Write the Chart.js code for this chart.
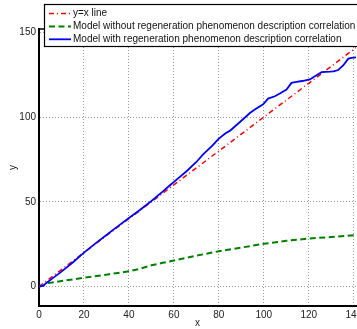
<!DOCTYPE html>
<html>
<head>
<meta charset="utf-8">
<script src="https://cdn.jsdelivr.net/npm/chart.js@4/dist/chart.umd.min.js"></script>
<style>
  html, body { margin: 0; padding: 0; background: #fff; overflow: hidden; }
  #wrap { position: relative; width: 380px; height: 329px; }
</style>
</head>
<body>
<div id="wrap"><canvas id="chart"></canvas></div>
<script>
// series labels
const seriesLabels = [
  "y=x line",
  "Model without regeneration phenomenon description correlation",
  "Model with regeneration phenomenon description correlation",
];

// y=x reference line
const refX = [0, 141];
const refY = [0, 141];

// model without regeneration (green dashed)
const greenX = [0, 2, 4, 8, 14, 20, 30, 40, 45, 50, 55, 60, 70, 80, 90, 100, 110, 120, 130, 141];
const greenY = [0, 0.6, 2, 2.8, 4, 5.2, 7, 9, 10.5, 12.5, 14, 15.3, 18.2, 20.8, 23, 25.2, 27, 28.3, 29.2, 30.3];

// model with regeneration (blue solid)
const blueX = [0, 2, 3, 6, 10, 15, 20, 25, 30, 35, 40, 45, 50, 55, 58, 62, 66, 70, 73, 77, 80, 83, 85, 88, 91, 93.8, 96,
  99.7, 101.9, 104.9, 107.1, 110.1, 112.3, 114.6, 117, 120.5, 122.7, 125.7, 129.4, 131, 133.1, 135.3, 137.6, 139.1, 141];
const blueY = [0, 0.5, 1.8, 4.8, 8.8, 14.2, 20, 25.3, 30.4, 35.5, 40.4, 45.3, 50.5, 56, 59.5, 64, 68.5, 73.5, 78, 83, 87.3,
  90.5, 92, 95.5, 99, 102.4, 104.5, 107.6, 110.9, 112.3, 113.9, 116.3, 120.2, 120.8, 121.3, 122.2, 124.1, 126.5, 126.8,
  127, 127.8, 130.5, 134.5, 135, 135.2];

// axes
const xTicks = [0, 20, 40, 60, 80, 100, 120, 140];
const yTicks = [0, 50, 100, 150];
const xRange = [0, 141];
const yRange = [-11.5, 152];

function toPoints(xs, ys) {
  return xs.map((x, i) => ({ x: x, y: ys[i] }));
}

const FONT = "'Liberation Sans', Arial, Helvetica, sans-serif";

// MATLAB style legend box drawn over the top of the axes
const boxLegend = {
  id: "boxLegend",
  afterDraw(chart) {
    const ctx = chart.ctx;
    const area = chart.chartArea;
    ctx.save();
    // top border of the axes box
    ctx.strokeStyle = "#000";
    ctx.lineWidth = 1.5;
    ctx.beginPath();
    ctx.moveTo(area.left, area.top);
    ctx.lineTo(area.right, area.top);
    ctx.stroke();

    const bx = 44.5, by = 4.5, bw = 340, bh = 42;
    ctx.fillStyle = "#fff";
    ctx.fillRect(bx, by, bw, bh);
    ctx.lineWidth = 1.2;
    ctx.strokeStyle = "#000";
    ctx.strokeRect(bx, by, bw, bh);

    ctx.font = "10px " + FONT;
    ctx.textBaseline = "middle";
    ctx.textAlign = "left";
    chart.data.datasets.forEach((ds, i) => {
      const y = 13.5 + i * 12.9;
      ctx.save();
      ctx.strokeStyle = ds.borderColor;
      ctx.lineWidth = ds.borderWidth;
      ctx.setLineDash(ds.borderDash || []);
      ctx.beginPath();
      ctx.moveTo(49, y);
      ctx.lineTo(71, y);
      ctx.stroke();
      ctx.restore();
      ctx.fillStyle = "#111";
      ctx.fillText(ds.label, 73, y);
    });
    ctx.restore();
  },
};

new Chart(document.getElementById("chart"), {
  type: "line",
  data: {
    datasets: [
      {
        label: seriesLabels[0],
        data: toPoints(refX, refY),
        borderColor: "#ff0000",
        borderWidth: 1.5,
        borderDash: [5, 3, 1, 3],
        order: 3,
      },
      {
        label: seriesLabels[1],
        data: toPoints(greenX, greenY),
        borderColor: "#008000",
        borderWidth: 2,
        borderDash: [6, 3.5],
        order: 2,
      },
      {
        label: seriesLabels[2],
        data: toPoints(blueX, blueY),
        borderColor: "#0000ff",
        borderWidth: 1.8,
        order: 1,
      },
    ],
  },
  options: {
    responsive: true,
    maintainAspectRatio: false,
    animation: false,
    devicePixelRatio: 1,
    layout: { padding: { top: 29, right: 24, left: 0, bottom: 0 } },
    elements: { point: { radius: 0 }, line: { tension: 0 } },
    plugins: { legend: { display: false }, tooltip: { enabled: false } },
    scales: {
      x: {
        type: "linear",
        min: xRange[0],
        max: xRange[1],
        afterBuildTicks: (s) => { s.ticks = xTicks.map((v) => ({ value: v })); },
        afterFit: (s) => { s.height = 23; },
        ticks: { font: { size: 10, family: FONT }, color: "#222", padding: 3, maxRotation: 0 },
        grid: { color: "rgba(0,0,0,0.4)", drawTicks: false },
        border: { display: true, color: "#000", width: 2, dash: [1, 2] },
        title: { display: true, text: "x", font: { size: 10, family: FONT }, color: "#222", padding: { top: 0, bottom: 0 } },
      },
      y: {
        type: "linear",
        min: yRange[0],
        max: yRange[1],
        afterBuildTicks: (s) => { s.ticks = yTicks.map((v) => ({ value: v })); },
        afterFit: (s) => { s.width = 39; },
        ticks: { font: { size: 10, family: FONT }, color: "#222", padding: 3 },
        grid: { color: "rgba(0,0,0,0.4)", drawTicks: false },
        border: { display: true, color: "#000", width: 2, dash: [1, 2] },
        title: { display: true, text: "y", font: { size: 10, family: FONT }, color: "#222", padding: { top: 7, bottom: 0 } },
      },
    },
  },
  plugins: [boxLegend],
});
</script>
</body>
</html>
